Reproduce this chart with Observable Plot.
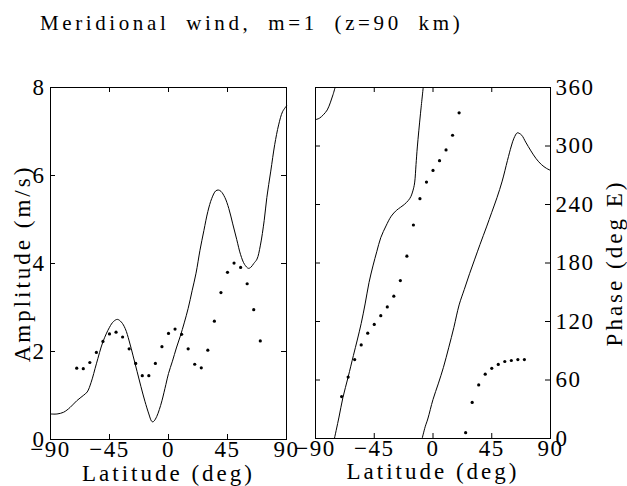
<!DOCTYPE html>
<html><head><meta charset="utf-8">
<script src="https://cdn.jsdelivr.net/npm/d3@7"></script>
<script src="https://cdn.jsdelivr.net/npm/@observablehq/plot@0.6"></script>
<style>
body{margin:0;background:#fff;}
#wrap{position:relative;width:627px;height:486px;overflow:hidden;font-family:"Liberation Serif",serif;}
#title{position:absolute;left:40px;top:11px;font-size:21px;letter-spacing:3.6px;word-spacing:8px;white-space:pre;color:#000;}
.panel{position:absolute;top:0;}
#left{left:0}
#right{left:290px}
</style></head><body>
<div id="wrap"><div id="title">Meridional wind, m=1 (z=90 km)</div><div id="left" class="panel"></div><div id="right" class="panel"></div></div>
<script>
// ---- data ----
const latTicks = [-90, -45, 0, 45, 90];
const ampTicks = [0, 2, 4, 6, 8];
const phaseTicks = [0, 60, 120, 180, 240, 300, 360];

// model amplitude curve
const ampCurveLat = [-90,-85,-80,-75,-70,-65,-62,-59,-55,-50,-45,-42,-39,-36,-33,-30,-27,-24,-21,-18,-15,-13,-12,-11,-9,-7,-5,-2,0,3,6,9,12,15,18,21,24,27,30,33,36,38,40,43,46,49,52,55,58,61,63,65,67.5,70,73,75,78,81,84,87,90];
const ampCurveVal = [0.58,0.58,0.62,0.73,0.88,1.0,1.08,1.3,1.72,2.22,2.55,2.68,2.73,2.67,2.52,2.24,1.9,1.55,1.2,0.87,0.58,0.42,0.40,0.42,0.52,0.68,0.88,1.25,1.5,1.78,2.08,2.35,2.65,2.98,3.38,3.78,4.3,4.75,5.18,5.48,5.65,5.67,5.64,5.5,5.25,4.9,4.55,4.2,3.98,3.89,3.92,4.0,4.1,4.4,4.98,5.5,6.1,6.7,7.15,7.45,7.58];

// observed amplitude (dots)
const ampObsLat = [-70,-65,-60,-55,-50,-45,-40,-35,-30,-25,-20,-15,-10,-5,0,5,10,15,20,25,30,35,40,45,50,55,60,65,70];
const ampObsVal = [1.62,1.61,1.75,1.98,2.23,2.40,2.44,2.33,2.06,1.73,1.45,1.45,1.73,2.11,2.41,2.51,2.39,2.06,1.71,1.63,2.03,2.69,3.34,3.80,4.01,3.91,3.54,2.95,2.24];

// model phase curve (three branches, wrapped at 360)
const phaseALat = [-90,-87,-84,-81,-78.5,-76.5,-75];
const phaseAVal = [327,328.5,332,337,345,353,360];
const phaseBLat = [-75.5,-72,-69,-65,-61,-58,-55,-52,-49,-46,-43,-40,-36,-32,-28,-25,-22,-19,-17,-15,-14,-13,-12,-9.6,-7.5];
const phaseBVal = [0,22,42,63,85,101,118,138,160,177,192,206,218,228,234,237,240,244,248,256,263,281,299,333,360];
const phaseCLat = [-8.3,-6,-4,0,4,8,12,16,20,24,28,32,36,41,45,49,53,57,60,62,64.5,66,68,71,75,79,83,87,90];
const phaseCVal = [0,12,20,40,56,73,93,114,137,153,169,184,199,217,232,247,264,285,300,308,313.5,313,311,304,295,287,281,277,275];

// observed phase (dots)
const phaseObs1Lat = [-70,-65,-60,-55,-50,-45,-40,-35,-30,-25,-20,-15,-10,-5,0,5,10,15,20];
const phaseObs1Val = [43,63,81,96,108,117,126,135,146,162,187,219,246,263,275,285,296,311,334];
const phaseObs2Lat = [25,30,35,40,45,50,55,60,65,70];
const phaseObs2Val = [6,37,55,66,72,76,79,80,81,81];

// ---- helpers ----
const zip = (xs, ys) => xs.map((x, i) => ({x, y: ys[i]}));
const font = "Liberation Serif";
const style = {fontFamily: font, fontSize: "23px", color: "black", background: "transparent", overflow: "visible", letterSpacing: "1.5px"};

function frameTicks(xt, yt, fw, fh, tl) {
  return [
    Plot.tickX(xt, {x: d => d, insetTop: fh - tl, stroke: "black"}),
    Plot.tickX(xt, {x: d => d, insetBottom: fh - tl, stroke: "black"}),
    Plot.tickY(yt, {y: d => d, insetRight: fw - tl, stroke: "black"}),
    Plot.tickY(yt, {y: d => d, insetLeft: fw - tl, stroke: "black"})
  ];
}
function widenLabels(svg) {
  d3.select(svg).selectAll('[aria-label="x-axis label"] text, [aria-label="y-axis label"] text')
    .style("letter-spacing", "3px");
}

// ---- left panel: amplitude ----
{
  const W = 300, H = 486, mL = 50, mR = 14, mT = 87, mB = 47;
  const fw = W - mL - mR, fh = H - mT - mB;
  const p = Plot.plot({
    width: W, height: H, marginLeft: mL, marginRight: mR, marginTop: mT, marginBottom: mB,
    style,
    x: {domain: [-90, 90]},
    y: {domain: [0, 8]},
    marks: [
      Plot.frame({stroke: "black"}),
      ...frameTicks(latTicks, ampTicks, fw, fh, 5),
      Plot.axisX(latTicks, {anchor: "bottom", tickSize: 0, tickPadding: 1, label: "Latitude (deg)", labelAnchor: "center", labelArrow: "none", labelOffset: 41, fontSize: 23}),
      Plot.axisY(ampTicks, {anchor: "left", tickSize: 0, tickPadding: 5, label: "Amplitude (m/s)", labelAnchor: "center", labelArrow: "none", labelOffset: 37, fontSize: 23}),
      Plot.line(zip(ampCurveLat, ampCurveVal), {x: "x", y: "y", stroke: "black", strokeWidth: 1, curve: "catmull-rom"}),
      Plot.dot(zip(ampObsLat, ampObsVal), {x: "x", y: "y", r: 1.6, fill: "black", stroke: "none"})
    ]
  });
  widenLabels(p);
  document.getElementById("left").append(p);
}

// ---- right panel: phase ----
{
  const W = 337, H = 486, mL = 25, mR = 77, mT = 87, mB = 48;
  const fw = W - mL - mR, fh = H - mT - mB;
  const p = Plot.plot({
    width: W, height: H, marginLeft: mL, marginRight: mR, marginTop: mT, marginBottom: mB,
    style,
    x: {domain: [-90, 90]},
    y: {domain: [0, 360]},
    marks: [
      Plot.frame({stroke: "black"}),
      ...frameTicks(latTicks, phaseTicks, fw, fh, 5),
      Plot.axisX(latTicks, {anchor: "bottom", tickSize: 0, tickPadding: 1, label: "Latitude (deg)", labelAnchor: "center", labelArrow: "none", labelOffset: 40, fontSize: 23}),
      Plot.axisY(phaseTicks, {anchor: "right", tickSize: 0, tickPadding: 5, label: "Phase (deg E)", labelAnchor: "center", labelArrow: "none", labelOffset: 71, fontSize: 23}),
      Plot.line(zip(phaseALat, phaseAVal), {x: "x", y: "y", stroke: "black", strokeWidth: 1, curve: "catmull-rom"}),
      Plot.line(zip(phaseBLat, phaseBVal), {x: "x", y: "y", stroke: "black", strokeWidth: 1, curve: "catmull-rom"}),
      Plot.line(zip(phaseCLat, phaseCVal), {x: "x", y: "y", stroke: "black", strokeWidth: 1, curve: "catmull-rom"}),
      Plot.dot(zip(phaseObs1Lat, phaseObs1Val), {x: "x", y: "y", r: 1.6, fill: "black", stroke: "none"}),
      Plot.dot(zip(phaseObs2Lat, phaseObs2Val), {x: "x", y: "y", r: 1.6, fill: "black", stroke: "none"})
    ]
  });
  widenLabels(p);
  document.getElementById("right").append(p);
}
</script>
</body></html>
